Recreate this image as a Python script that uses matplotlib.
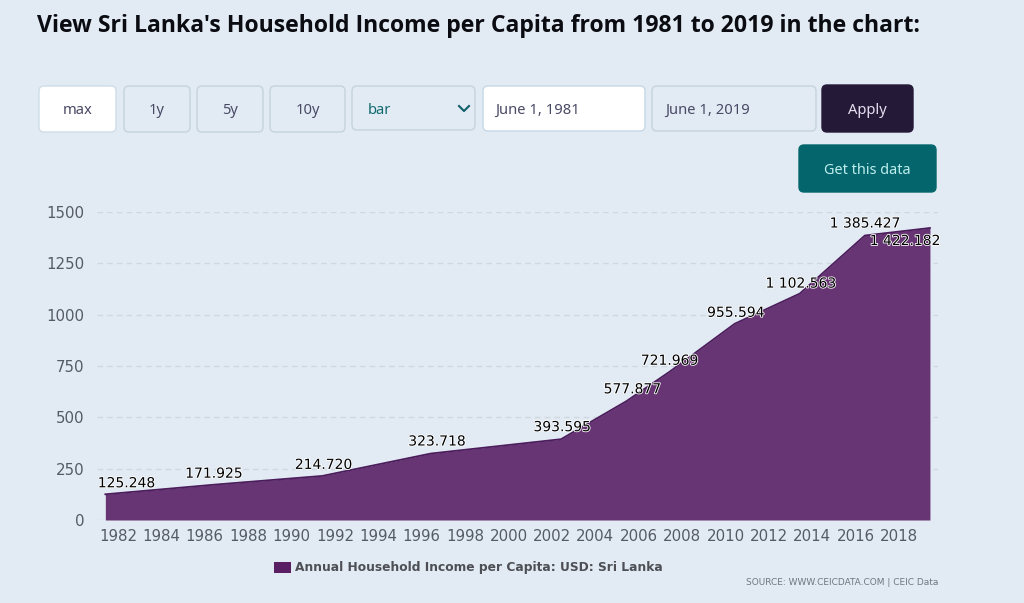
import matplotlib
matplotlib.use("Agg")
import matplotlib.pyplot as plt
from matplotlib.patches import FancyBboxPatch, Rectangle
import matplotlib.patheffects as pe

# survey dates (June of each year) and USD values
years = [1981, 1986, 1991, 1996, 2002, 2005, 2007, 2010, 2013, 2016, 2019]
values = [125.248, 171.925, 214.720, 323.718, 393.595, 577.877, 721.969, 955.594, 1102.563, 1385.427, 1422.182]
labels = ["125.248", "171.925", "214.720", "323.718", "393.595", "577.877", "721.969", "955.594", "1 102.563", "1 385.427", "1 422.182"]
tick_years = list(range(1982, 2019, 2))
y_ticks = [0, 250, 500, 750, 1000, 1250, 1500]

BG = "#e2ebf3"
W, H = 1024, 603
plt.rcParams['font.family'] = ['Noto Sans', 'DejaVu Sans']

fig = plt.figure(figsize=(W / 100, H / 100), dpi=100, facecolor=BG)

# full-figure overlay in pixel coordinates for the page controls
page = fig.add_axes([0, 0, 1, 1], zorder=0)
page.set_xlim(0, W)
page.set_ylim(H, 0)
page.axis('off')

def button(x0, x1, y0, y1, text, fill, edge, color, tx=None, size=10.6, dy=2):
    page.add_patch(FancyBboxPatch((x0 + 4, y0 + 4), x1 - x0 - 8, y1 - y0 - 8,
                                  boxstyle="round,pad=4,rounding_size=5",
                                  fc=fill, ec=edge, lw=1))
    cx = (x0 + x1) / 2 if tx is None else tx
    page.text(cx, (y0 + y1) / 2 + dy, text, color=color, fontsize=size,
              ha='center' if tx is None else 'left', va='center')

page.text(37, 26.5, "View Sri Lanka's Household Income per Capita from 1981 to 2019 in the chart:",
          family='Open Sans', fontsize=16.55, fontweight='bold', color='#0b0b12', va='center')

button(39, 116, 86, 132, "max", "#ffffff", "#cfdde8", "#4a4a66")
button(124, 190, 86, 132, "1y", BG, "#c5d3de", "#4a4a66")
button(197, 263, 86, 132, "5y", BG, "#c5d3de", "#4a4a66")
button(270, 345, 86, 132, "10y", BG, "#c5d3de", "#4a4a66")
button(352, 475, 86, 130, "bar", BG, "#c5d3de", "#136a73", tx=368)
page.plot([459, 464, 469], [106, 111, 106], color="#0f5f6b", lw=1.5)
button(483, 645, 86, 131, "June 1, 1981", "#ffffff", "#c5d8e6", "#4a4a66", tx=495)
button(652, 816, 86, 131, "June 1, 2019", BG, "#c5d3de", "#4a4a66", tx=665)
button(822, 913, 85, 132, "Apply", "#241a38", "#241a38", "#e6dff0")
button(799, 936, 145, 192, "Get this data", "#04666c", "#04666c", "#bfeeee", size=10.4)

# plot area: x pixels 97-938, y pixels 212-520
ax = fig.add_axes([97 / W, 1 - 520 / H, (938 - 97) / W, (520 - 212) / H], zorder=1)
ax.patch.set_alpha(0)
x_left = 1982 + (97 - 118) / 21.7
x_right = 1982 + (938 - 118) / 21.7
ax.set_xlim(x_left, x_right)
ax.set_ylim(0, 1500)

xs = [y + 5 / 12 for y in years]
ax.fill_between(xs, values, 0, color="#673573", lw=0, zorder=2)
ax.plot(xs, values, color="#4c1d5c", lw=1.3, zorder=3)

for v in y_ticks:
    ax.axhline(v, color="#cfd8df", lw=1, dashes=(4, 3), zorder=1)

for s in ax.spines.values():
    s.set_visible(False)
ax.set_xticks(tick_years)
ax.set_xticklabels(tick_years, family='DejaVu Sans', fontsize=10.8, color="#555b63")
ax.set_yticks(y_ticks)
ax.set_yticklabels(y_ticks, family='DejaVu Sans', fontsize=10.8, color="#555b63")
ax.tick_params(length=0)
ax.tick_params(axis='x', pad=6.5)
ax.tick_params(axis='y', pad=9)

# value labels, offset from the point in pixels (dx, dy)
offsets = [(21, 4), (0, 4), (1, 4), (6, 5), (1, 5), (6, 5), (0, 4), (1, 4), (1, 3), (0, 5), (-25, -20)]
for x, v, t, off in zip(xs, values, labels, offsets):
    ax.annotate(t, (x, v), xytext=off, textcoords='offset pixels', ha='center', va='bottom',
                family='DejaVu Sans', fontsize=10, color='black', zorder=5, annotation_clip=False,
                path_effects=[pe.withStroke(linewidth=1.2, foreground='white')])

# legend and source line
page.add_patch(Rectangle((274, 562), 17, 11, fc="#5a1e63", ec='none'))
page.text(295, 567.5, "Annual Household Income per Capita: USD: Sri Lanka", family='DejaVu Sans',
          fontsize=8.85, fontweight='bold', color="#4d4f55", va='center')
page.text(938, 582.5, "SOURCE: WWW.CEICDATA.COM | CEIC Data", family='DejaVu Sans',
          fontsize=6.45, color="#6f7880", ha='right', va='center')

fig.savefig("out.png", dpi=100, facecolor=BG)
